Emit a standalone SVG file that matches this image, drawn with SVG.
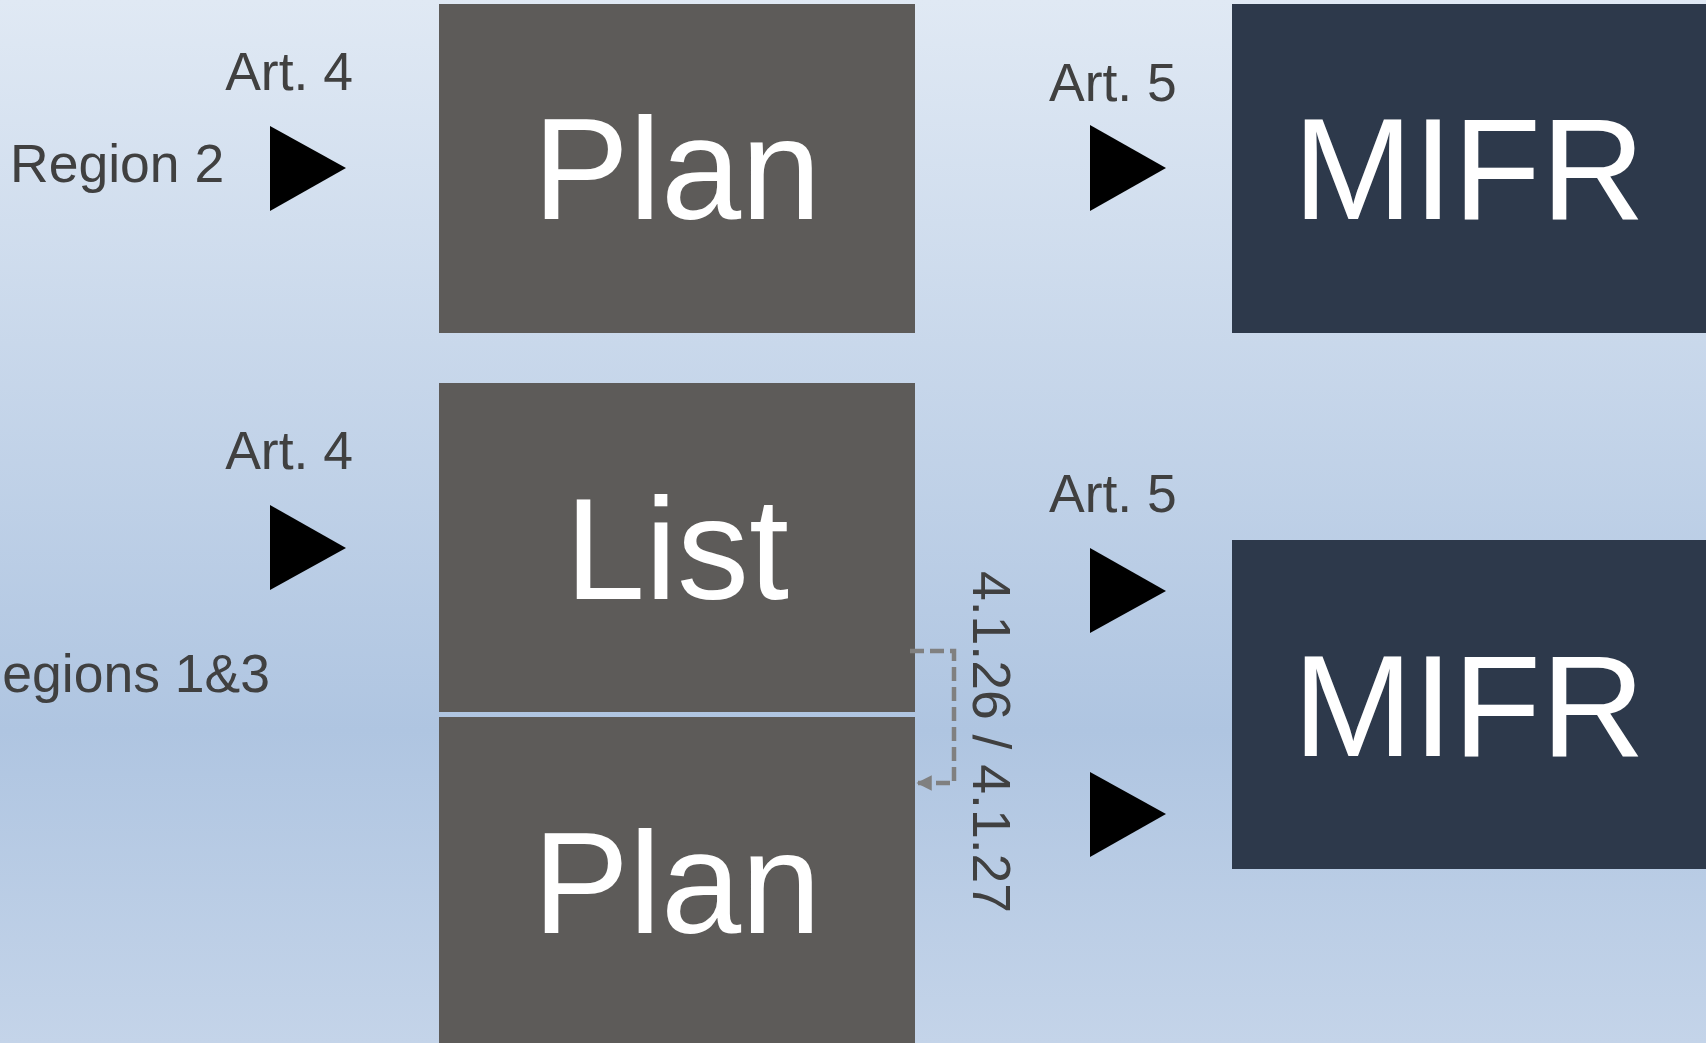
<svg xmlns="http://www.w3.org/2000/svg" width="1706" height="1043" viewBox="0 0 1706 1043">
  <defs>
    <linearGradient id="bg" x1="0" y1="0" x2="0" y2="1">
      <stop offset="0" stop-color="#e0e9f4"/>
      <stop offset="0.7" stop-color="#afc5e1"/>
      <stop offset="1" stop-color="#c4d4e9"/>
    </linearGradient>
    <marker id="arr" viewBox="0 0 10 10" refX="9" refY="5" markerWidth="3.6" markerHeight="3.4" orient="auto" markerUnits="strokeWidth">
      <path d="M0,0 L10,5 L0,10 Z" fill="#808080"/>
    </marker>
    <style>
      .lbl { font-family: "Liberation Sans", Arial, sans-serif; font-size: 53.5px; fill: #404040; }
      .big { font-family: "Liberation Sans", Arial, sans-serif; font-size: 144px; fill: #ffffff; text-anchor: middle; }
      .gray { fill: #5d5b59; }
      .navy { fill: #2d394b; }
      .tri { fill: #000000; }
    </style>
  </defs>
  <rect x="0" y="0" width="1706" height="1043" fill="url(#bg)"/>

  <g id="plan-top">
    <rect class="gray" x="439" y="4" width="476" height="329"/>
    <text class="big" x="677" y="219">Plan</text>
  </g>
  <g id="mifr-top">
    <rect class="navy" x="1232" y="4" width="480" height="329"/>
    <text class="big" x="1469" y="219">MIFR</text>
  </g>
  <g id="list">
    <rect class="gray" x="439" y="383" width="476" height="329"/>
    <text class="big" x="677" y="599">List</text>
  </g>
  <g id="plan-bottom">
    <rect class="gray" x="439" y="717" width="476" height="340"/>
    <text class="big" x="677" y="933">Plan</text>
  </g>
  <g id="mifr-bottom">
    <rect class="navy" x="1232" y="540" width="480" height="329"/>
    <text class="big" x="1469" y="756">MIFR</text>
  </g>

  <g id="labels">
    <text class="lbl" x="353" y="90" text-anchor="end">Art. 4</text>
    <text class="lbl" x="10" y="182">Region 2</text>
    <text class="lbl" x="353" y="469" text-anchor="end">Art. 4</text>
    <text class="lbl" x="270" y="692" text-anchor="end">Regions 1&amp;3</text>
    <text class="lbl" x="1049" y="101">Art. 5</text>
    <text class="lbl" x="1049" y="512">Art. 5</text>
    <text class="lbl" transform="translate(973,571) rotate(90)" style="font-size:53.5px">4.1.26 / 4.1.27</text>
  </g>

  <g id="connectors">
    <polygon class="tri" points="270,126 346,168 270,211"/>
    <polygon class="tri" points="270,505 346,548 270,590"/>
    <polygon class="tri" points="1090,125 1166,168 1090,211"/>
    <polygon class="tri" points="1090,548 1166,591 1090,633"/>
    <polygon class="tri" points="1090,772 1166,814 1090,857"/>
    <polyline points="910,651 954,651 954,783 918,783" fill="none" stroke="#808080" stroke-width="4.5" stroke-dasharray="14,6" marker-end="url(#arr)"/>
  </g>
</svg>
